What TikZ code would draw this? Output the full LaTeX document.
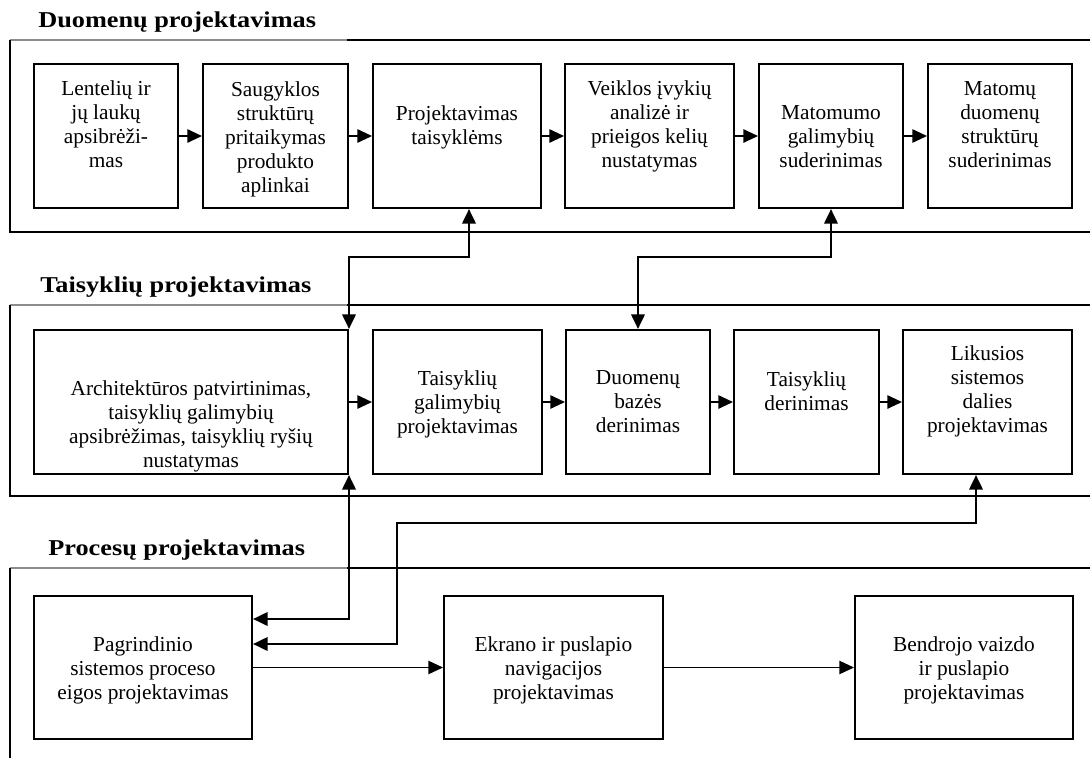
\documentclass[tikz,border=0pt]{standalone}
\usepackage{fontspec}
\setmainfont{Liberation Serif}
\newfontfamily\ttlfont[FakeStretch=1.16]{Liberation Serif}
\usetikzlibrary{arrows.meta,calc,fit}
\begin{document}
\begin{tikzpicture}[x=0.75pt,y=-0.75pt,
  box/.style={draw,line width=1.5pt,inner sep=0pt},
  txt/.style={align=center,inner sep=0pt,font=\fontsize{16pt}{18pt}\selectfont},
  ttl/.style={anchor=base west,inner sep=0pt,font=\ttlfont\fontsize{17pt}{20pt}\selectfont\bfseries},
  frame/.style={line width=1.2pt},
  framegray/.style={line width=0.9pt,draw=black!45},
  tip/.tip={Triangle[length=11pt,width=10pt]},
  arr/.style={line width=1.4pt,-tip},
  arrthin/.style={line width=1.1pt,-tip},
  conn/.style={line width=2pt,tip-tip}]
\useasboundingbox (0,0) rectangle (1090,758);
% frames
\draw[framegray] (10,40) -- (347,40);
\draw[frame] (347,40) -- (1090,40);
\draw[frame] (10,40) -- (10,232) -- (1090,232);
\draw[framegray] (10,305) -- (347,305);
\draw[frame] (347,305) -- (1090,305);
\draw[frame] (10,305) -- (10,496) -- (1090,496);
\draw[framegray] (10,568) -- (347,568);
\draw[frame] (347,568) -- (1090,568);
\draw[frame] (10,568) -- (10,758);
% titles
\node[ttl] (h1) at (38,27) {Duomenų projektavimas};
\node[ttl] (h2) at (40,292) {Taisyklių projektavimas};
\node[ttl] (h3) at (48,555) {Procesų projektavimas};
% row 1
\node[box,fit={(34,64)(178,208)}] (b1) {};
\node[box,fit={(203,64)(348,208)}] (b2) {};
\node[box,fit={(373,64)(541,208)}] (b3) {};
\node[box,fit={(565,64)(734,208)}] (b4) {};
\node[box,fit={(759,64)(903,208)}] (b5) {};
\node[box,fit={(928,64)(1072,208)}] (b6) {};
\node[txt] (t1) at (106,124.5) {Lentelių ir\\jų laukų\\apsibrėži-\\mas};
\node[txt] (t2) at (275.5,139) {Saugyklos\\struktūrų\\pritaikymas\\produkto\\aplinkai};
\node[txt] (t3) at (457,127) {Projektavimas\\taisyklėms};
\node[txt] (t4) at (649.5,126) {Veiklos įvykių\\analizė ir\\prieigos kelių\\nustatymas};
\node[txt] (t5) at (831,136.5) {Matomumo\\galimybių\\suderinimas};
\node[txt] (t6) at (1000,125) {Matomų\\duomenų\\struktūrų\\suderinimas};
% row 2
\node[box,fit={(34,330)(348,474)}] (bA) {};
\node[box,fit={(373,330)(542,474)}] (bB) {};
\node[box,fit={(566,330)(710,474)}] (bC) {};
\node[box,fit={(734,330)(879,474)}] (bD) {};
\node[box,fit={(903,330)(1072,474)}] (bE) {};
\node[txt] (tA) at (191,426) {Architektūros patvirtinimas,\\taisyklių galimybių\\apsibrėžimas, taisyklių ryšių\\nustatymas};
\node[txt] (tB) at (457.5,404) {Taisyklių\\galimybių\\projektavimas};
\node[txt] (tC) at (638,402) {Duomenų\\bazės\\derinimas};
\node[txt] (tD) at (806.5,391) {Taisyklių\\derinimas};
\node[txt] (tE) at (987.5,391) {Likusios\\sistemos\\dalies\\projektavimas};
% row 3
\node[box,fit={(34,596)(252,739)}] (bP) {};
\node[box,fit={(444,596)(663,739)}] (bQ) {};
\node[box,fit={(855,596)(1073,739)}] (bR) {};
\node[txt] (tP) at (143,670) {Pagrindinio\\sistemos proceso\\eigos projektavimas};
\node[txt] (tQ) at (553.5,670) {Ekrano ir puslapio\\navigacijos\\projektavimas};
\node[txt] (tR) at (964,670) {Bendrojo vaizdo\\ir puslapio\\projektavimas};
% row arrows
\draw[arr] (b1.east) -- (b2.west);
\draw[arr] (b2.east) -- (b3.west);
\draw[arr] (b3.east) -- (b4.west);
\draw[arr] (b4.east) -- (b5.west);
\draw[arr] (b5.east) -- (b6.west);
\draw[arr] (bA.east) -- (bB.west);
\draw[arr] (bB.east) -- (bC.west);
\draw[arr] (bC.east) -- (bD.west);
\draw[arr] (bD.east) -- (bE.west);
\draw[arrthin] (bP.east) -- (bQ.west);
\draw[arrthin] (bQ.east) -- (bR.west);
% connectors
\draw[conn] ($(b3.south)+(12,0)$) |- ($(bA.north east)+(0,-72)$) -- (bA.north east);
\draw[conn] (b5.south) |- ($(bC.north)+(0,-72)$) -- (bC.north);
\draw[conn] (bA.south east) |- ($(bP.east)+(0,-48.5)$);
\coordinate (k1) at (397,523);
\draw[conn] ($(bE.south)+(-11.5,0)$) |- (k1) |- ($(bP.east)+(0,-23.5)$);
\end{tikzpicture}
\end{document}
